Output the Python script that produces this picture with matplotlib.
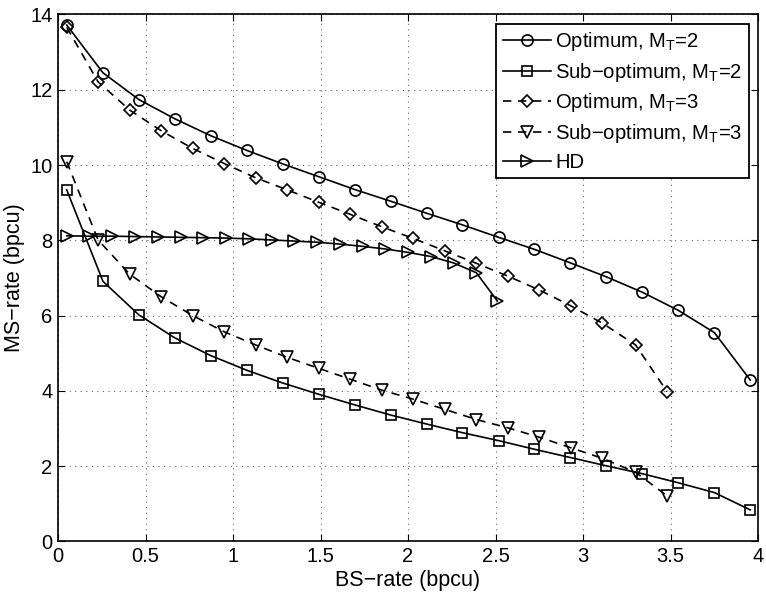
import matplotlib
matplotlib.use('Agg')
import matplotlib.pyplot as plt
import numpy as np

plt.rcParams['font.family'] = ['Liberation Sans', 'DejaVu Sans']
plt.rcParams['font.size'] = 12
plt.rcParams['mathtext.default'] = 'regular'
plt.rcParams['axes.unicode_minus'] = True

# ---- data
x_opt2 = [0.05, 0.257, 0.462, 0.667, 0.872, 1.078, 1.284, 1.49, 1.695, 1.9,
          2.106, 2.311, 2.517, 2.722, 2.928, 3.133, 3.339, 3.544, 3.75, 3.955]
y_opt2 = [13.72, 12.45, 11.74, 11.23, 10.78, 10.39, 10.03, 9.69, 9.35, 9.04,
          8.72, 8.41, 8.08, 7.76, 7.40, 7.03, 6.62, 6.14, 5.55, 4.29]
y_sub2 = [9.34, 6.91, 6.02, 5.41, 4.94, 4.55, 4.21, 3.91, 3.63, 3.36,
          3.12, 2.89, 2.68, 2.45, 2.23, 2.01, 1.80, 1.56, 1.30, 0.84]

x_opt3 = [0.05, 0.229, 0.41, 0.59, 0.77, 0.95, 1.13, 1.31, 1.49, 1.67,
          1.85, 2.03, 2.21, 2.39, 2.57, 2.75, 2.93, 3.11, 3.30, 3.48]
y_opt3 = [13.66, 12.21, 11.46, 10.91, 10.44, 10.04, 9.66, 9.34, 9.01, 8.69,
          8.36, 8.05, 7.72, 7.39, 7.05, 6.68, 6.26, 5.80, 5.22, 3.98]
y_sub3 = [10.09, 8.01, 7.10, 6.50, 6.00, 5.57, 5.22, 4.89, 4.60, 4.31,
          4.02, 3.78, 3.51, 3.24, 3.02, 2.77, 2.49, 2.21, 1.84, 1.21]

x_hd = [0.05, 0.18, 0.31, 0.44, 0.57, 0.70, 0.83, 0.96, 1.09, 1.22,
        1.35, 1.48, 1.61, 1.74, 1.87, 2.00, 2.13, 2.26, 2.39, 2.51]
y_hd = [8.12, 8.11, 8.11, 8.10, 8.09, 8.08, 8.07, 8.06, 8.04, 8.01,
        7.98, 7.95, 7.90, 7.84, 7.77, 7.68, 7.57, 7.40, 7.14, 6.39]

labels = ['Optimum, $M_T$=2', 'Sub\u2212optimum, $M_T$=2', 'Optimum, $M_T$=3',
          'Sub\u2212optimum, $M_T$=3', 'HD']

fig = plt.figure(figsize=(7.66, 6.02), dpi=100)
ax = fig.add_axes([0.0757, 0.1005, 0.914, 0.8755])

kw = dict(color='k', linewidth=1.2, markerfacecolor='none', markeredgecolor='k',
          markeredgewidth=1.2, markersize=8)
ax.plot(x_opt2, y_opt2, '-', marker='o', label=labels[0], **kw)
ax.plot(x_opt2, y_sub2, '-', marker='s', label=labels[1], **dict(kw, markersize=7))
ax.plot(x_opt3, y_opt3, '--', marker='D', label=labels[2], dashes=(5, 4), **dict(kw, markersize=6.5))
ax.plot(x_opt3, y_sub3, '--', marker='v', label=labels[3], dashes=(5, 4), **dict(kw, markersize=9))
ax.plot(x_hd, y_hd, '-', marker='>', label=labels[4], **dict(kw, markersize=9))

ax.set_xlim(0, 4)
ax.set_ylim(0, 14)
ax.set_xticks(np.arange(0, 4.01, 0.5))
ax.set_xticklabels(['0', '0.5', '1', '1.5', '2', '2.5', '3', '3.5', '4'])
ax.set_yticks(np.arange(0, 15, 2))
ax.grid(True, linestyle=(0, (1, 4)), color='k', linewidth=0.8, alpha=0.6)
ax.tick_params(direction='in', top=True, right=True, length=5, labelsize=14.5, pad=4)
for s in ax.spines.values():
    s.set_linewidth(1.2)

ax.set_xlabel('BS\u2212rate (bpcu)', fontsize=15.5, labelpad=3)
ax.set_ylabel('MS\u2212rate (bpcu)', fontsize=15.5, labelpad=4)

leg = ax.legend(loc='upper right', fontsize=14.6, handlelength=2.4, handletextpad=0.2,
                borderaxespad=0.45, labelspacing=0.38, borderpad=0.32, fancybox=False,
                framealpha=1, edgecolor='k')
leg.get_frame().set_linewidth(1.3)

plt.savefig('out.png', dpi=100)
